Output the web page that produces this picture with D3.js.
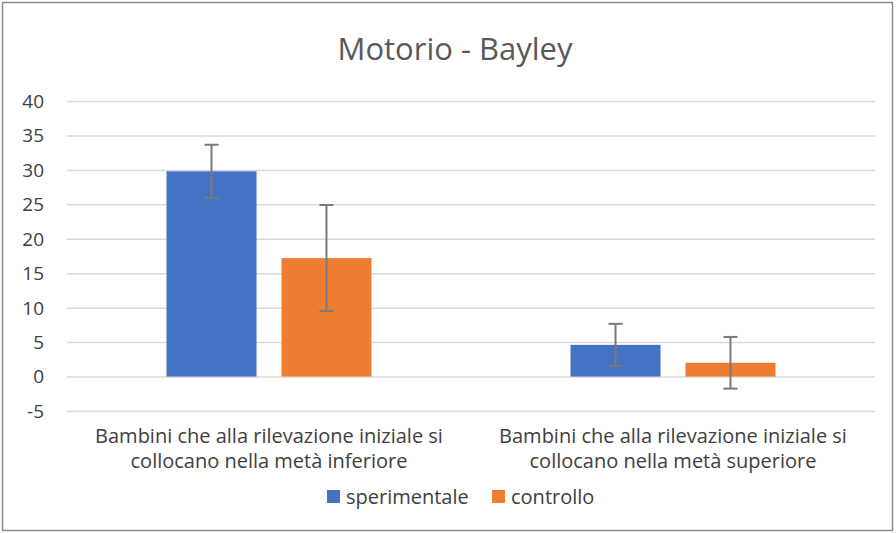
<!DOCTYPE html>
<meta charset="utf-8">
<style>
    body { margin: 0; background: #fff; }
    text { font-family: "Open Sans", "Noto Sans", sans-serif; fill: #404040; }
    .grid line { stroke: #d9d9d9; stroke-width: 1.5px; }
</style>
<svg width="896" height="533"></svg>
<script src="https://d3js.org/d3.v7.min.js"></script>
<script>

    var categories = [
        ["Bambini che alla rilevazione iniziale si", "collocano nella metà inferiore"],
        ["Bambini che alla rilevazione iniziale si", "collocano nella metà superiore"]
    ];
    var seriesNames = ["sperimentale", "controllo"];
    var sperimentale = [29.8, 4.6];
    var controllo = [17.2, 2.0];
    var errSperimentale = [3.85, 3.05];
    var errControllo = [7.7, 3.75];
    var yTicks = [-5, 0, 5, 10, 15, 20, 25, 30, 35, 40];
    var colors = ["#4472c4", "#ed7d31"];

    var svg = d3.select("svg"),
        margin = {top: 101, right: 21, bottom: 122, left: 67},
        width = 896 - margin.left - margin.right,
        height = 533 - margin.top - margin.bottom;

    svg.append("rect")
        .attr("x", 2.5).attr("y", 2.5)
        .attr("width", 890).attr("height", 528)
        .attr("fill", "#fff")
        .attr("stroke", "#8c8c8c")
        .attr("stroke-width", 1.5);

    svg.append("text")
        .attr("x", 455)
        .attr("y", 60)
        .attr("text-anchor", "middle")
        .style("font-size", "31px")
        .style("fill", "#595959")
        .text("Motorio - Bayley");

    var g = svg.append("g").attr("transform", "translate(" + margin.left + "," + margin.top + ")");

    var x0 = d3.scaleBand().domain(d3.range(categories.length)).range([0, width]);
    var x1 = d3.scaleBand().domain(d3.range(seriesNames.length))
        .range([x0.bandwidth() * 0.2463, x0.bandwidth() * 0.7537]).paddingInner(0.217);
    var y = d3.scaleLinear().domain([-5, 40]).range([height, 0]);

    // gridlines
    g.append("g")
        .attr("class", "grid")
        .call(d3.axisLeft(y).tickValues(yTicks).tickSize(-width).tickFormat(""))
        .call(function (s) { s.select(".domain").remove(); });

    // y tick labels
    g.selectAll(".ylab")
        .data(yTicks)
        .enter().append("text")
        .attr("x", -23)
        .attr("y", function (d) { return y(d); })
        .attr("dy", "0.36em")
        .attr("text-anchor", "end")
        .style("font-size", "19px")
        .text(function (d) { return d; });

    var data = categories.map(function (c, i) {
        return [
            {s: 0, v: sperimentale[i], e: errSperimentale[i]},
            {s: 1, v: controllo[i], e: errControllo[i]}
        ];
    });

    var grp = g.selectAll(".cat")
        .data(data)
        .enter().append("g")
        .attr("transform", function (d, i) { return "translate(" + x0(i) + ",0)"; });

    grp.selectAll("rect")
        .data(function (d) { return d; })
        .enter().append("rect")
        .attr("x", function (d) { return x1(d.s); })
        .attr("width", x1.bandwidth())
        .attr("y", function (d) { return y(d.v); })
        .attr("height", function (d) { return y(0) - y(d.v); })
        .attr("fill", function (d) { return colors[d.s]; });

    // error bars
    var eb = grp.selectAll(".err")
        .data(function (d) { return d; })
        .enter().append("g")
        .attr("stroke", "#7a7a7a")
        .attr("stroke-width", 2);
    eb.append("line")
        .attr("x1", function (d) { return x1(d.s) + x1.bandwidth() / 2; })
        .attr("x2", function (d) { return x1(d.s) + x1.bandwidth() / 2; })
        .attr("y1", function (d) { return y(d.v + d.e); })
        .attr("y2", function (d) { return y(d.v - d.e); });
    [1, -1].forEach(function (sign) {
        eb.append("line")
            .attr("x1", function (d) { return x1(d.s) + x1.bandwidth() / 2 - 7; })
            .attr("x2", function (d) { return x1(d.s) + x1.bandwidth() / 2 + 7; })
            .attr("y1", function (d) { return y(d.v + sign * d.e); })
            .attr("y2", function (d) { return y(d.v + sign * d.e); });
    });

    // category labels
    var cl = g.selectAll(".clab")
        .data(categories)
        .enter().append("text")
        .attr("text-anchor", "middle")
        .style("font-size", "20px")
        .style("fill", "#404040");
    cl.selectAll("tspan")
        .data(function (d, i) { return d.map(function (t) { return {t: t, i: i}; }); })
        .enter().append("tspan")
        .attr("x", function (d) { return x0(d.i) + x0.bandwidth() / 2; })
        .attr("y", function (d, j) { return height + 32 + j * 25; })
        .text(function (d) { return d.t; });

    // legend
    var legX = [327, 492];
    var leg = svg.selectAll(".leg")
        .data(seriesNames)
        .enter().append("g")
        .attr("transform", function (d, i) { return "translate(" + legX[i] + ",490)"; });
    leg.append("rect")
        .attr("width", 13).attr("height", 13)
        .attr("fill", function (d, i) { return colors[i]; });
    leg.append("text")
        .attr("x", 19).attr("y", 14)
        .style("font-size", "20px")
        .text(function (d) { return d; });

</script>
